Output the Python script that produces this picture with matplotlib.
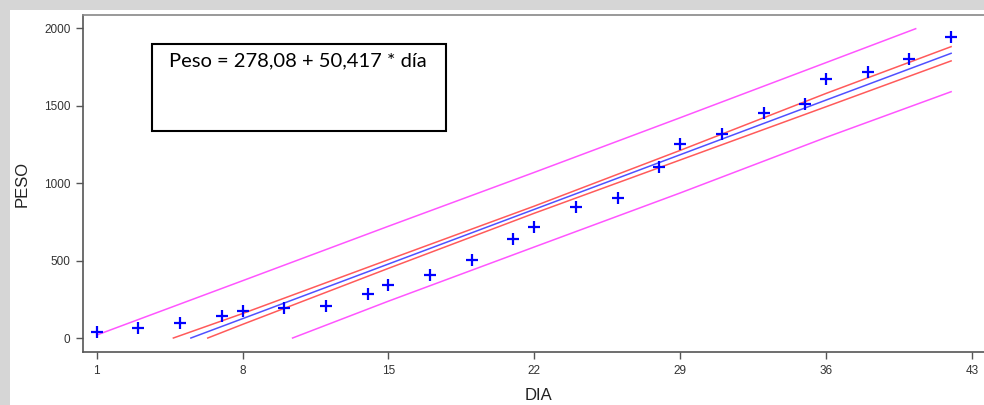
import matplotlib
matplotlib.use('Agg')
import matplotlib.pyplot as plt
from matplotlib.patches import Rectangle

plt.rcParams['font.family'] = ['Liberation Sans', 'DejaVu Sans']

# datos: dia vs peso
dia = [1, 3, 5, 7, 8, 10, 12, 14, 15, 17, 19, 21, 22, 24, 26, 28, 29, 31, 33, 35, 36, 38, 40, 42]
peso = [40, 63, 95, 142, 176, 192, 207, 282, 342, 405, 504, 641, 719, 848, 906,
        1107, 1251, 1318, 1455, 1510, 1673, 1720, 1800, 1942]

# recta ajustada y bandas
fit_x = [5.52, 8, 15, 22, 29, 36, 42]
fit_y = [0, 125, 478, 831, 1184, 1537, 1839]
ci_up_x = [4.68, 8, 15, 22, 29, 36, 42]
ci_up_y = [0, 158, 506, 852, 1212, 1580, 1882]
ci_lo_x = [6.33, 8, 15, 22, 29, 36, 42]
ci_lo_y = [0, 88, 450, 806, 1150, 1494, 1790]
pi_up_x = [1, 8, 15, 22, 29, 36, 40.3]
pi_up_y = [19, 370, 722, 1070, 1423, 1779, 1998]
pi_lo_x = [10.4, 15, 22, 29, 36, 42]
pi_lo_y = [0, 238, 588, 937, 1296, 1591]

x_ticks = [1, 8, 15, 22, 29, 36, 43]
y_ticks = [0, 500, 1000, 1500, 2000]
ecuacion = 'Peso = 278,08 + 50,417 * día'

W, H = 984, 405
fig = plt.figure(figsize=(W / 100, H / 100), dpi=100, facecolor='#d6d6d6')

# panel blanco (captura de pantalla)
fig.patches.append(Rectangle((10 / W, 0), 1, (H - 10) / H, transform=fig.transFigure,
                             facecolor='white', edgecolor='none', zorder=-5))

ax = fig.add_axes([83 / W, (H - 352) / H, 910 / W, 337 / H])
ax.set_facecolor('white')

ax.plot(pi_up_x, pi_up_y, color='#ff55ff', lw=1.1)
ax.plot(pi_lo_x, pi_lo_y, color='#ff55ff', lw=1.1)
ax.plot(ci_up_x, ci_up_y, color='#ff5a5a', lw=1.1)
ax.plot(ci_lo_x, ci_lo_y, color='#ff5a5a', lw=1.1)
ax.plot(fit_x, fit_y, color='#5050ff', lw=1.1)
ax.plot(dia, peso, linestyle='none', marker='+', color='#0000ff', markersize=9, mew=1.6)

ax.set_xlim(0.343, 44.01)
ax.set_ylim(-90.4, 2086.5)
ax.set_xticks(x_ticks)
ax.set_yticks(y_ticks)

for s in ax.spines.values():
    s.set_color('#555555')
    s.set_linewidth(1.2)
ax.spines['top'].set_color('#888888')
ax.tick_params(direction='out', length=5, width=1, color='#555555',
               labelsize=8.5, labelcolor='#333333', pad=4)

ax.set_xlabel('DIA', fontsize=12, color='#222222', labelpad=8)
ax.set_ylabel('PESO', fontsize=12, color='#222222', labelpad=10)

# cuadro con la ecuacion
fig.patches.append(Rectangle((152 / W, (H - 131) / H), 294 / W, 87 / H, transform=fig.transFigure,
                             facecolor='white', edgecolor='black', lw=1.5, zorder=5))
fig.text(169 / W, (H - 66) / H, ecuacion, fontsize=14.5, family='Lato',
         va='baseline', ha='left', color='black', zorder=6)

fig.savefig('out.png', dpi=100, facecolor=fig.get_facecolor())
